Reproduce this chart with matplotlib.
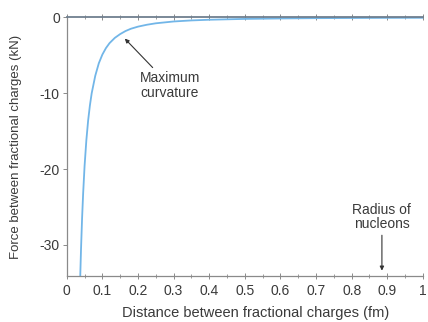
import matplotlib
matplotlib.use("Agg")
import matplotlib.pyplot as plt
from matplotlib.ticker import MultipleLocator

plt.rcParams['font.family'] = ['Liberation Sans', 'DejaVu Sans']

# Distance (fm) and force (kN)
distance = [0.036, 0.038, 0.040, 0.043, 0.046, 0.050, 0.055, 0.060, 0.065, 0.070,
            0.080, 0.090, 0.100, 0.110, 0.120, 0.135, 0.150, 0.165, 0.180, 0.200,
            0.225, 0.250, 0.300, 0.350, 0.400, 0.500, 0.600, 0.700, 0.800, 0.900, 1.000]
force = [-37.8, -33.9, -30.6, -26.5, -23.2, -19.6, -16.2, -13.6, -11.6, -10.0,
         -7.7, -6.05, -4.9, -4.05, -3.4, -2.7, -2.2, -1.8, -1.5, -1.22,
         -0.97, -0.78, -0.54, -0.40, -0.31, -0.20, -0.14, -0.10, -0.08, -0.06, -0.05]

x_ticks = [0, 0.1, 0.2, 0.3, 0.4, 0.5, 0.6, 0.7, 0.8, 0.9, 1]
x_ticklabels = ['0', '0.1', '0.2', '0.3', '0.4', '0.5', '0.6', '0.7', '0.8', '0.9', '1']
y_ticks = [0, -10, -20, -30]
y_ticklabels = ['0', '-10', '-20', '-30']

ann_curv_xy = (0.163, -2.8)
ann_curv_text = (0.29, -9.0)
ann_rad_xy = (0.885, -33.4)
ann_rad_text = (0.885, -26.3)

axis_col = '#8a8a8a'
text_col = '#3a3a3a'

fig = plt.figure(figsize=(4.28, 3.22), dpi=100)
ax = fig.add_axes([0.156, 0.143, 0.832, 0.803])

ax.plot(distance, force, color='#72b6e8', lw=1.3, clip_on=True)

ax.set_xlim(0, 1)
ax.set_ylim(-34.1, 0)
ax.set_xticks(x_ticks)
ax.set_xticklabels(x_ticklabels)
ax.set_yticks(y_ticks)
ax.set_yticklabels(y_ticklabels)
ax.xaxis.set_minor_locator(MultipleLocator(0.05))

ax.spines['right'].set_visible(False)
for s in ['left', 'bottom', 'top']:
    ax.spines[s].set_color(axis_col)
    ax.spines[s].set_linewidth(0.9)
ax.spines['top'].set_color('#6f7f8f')
ax.spines['top'].set_linewidth(1.3)

ax.tick_params(axis='x', which='both', direction='inout', top=True, color=axis_col,
               labelcolor=text_col, labelsize=10, pad=4)
ax.tick_params(axis='x', which='major', length=4, width=0.7)
ax.tick_params(axis='x', which='minor', length=2.5, width=0.6)
ax.tick_params(axis='y', direction='out', length=3, width=0.7, color=axis_col,
               labelcolor=text_col, labelsize=10, pad=2)

ax.set_xlabel('Distance between fractional charges (fm)', fontsize=10.5, color=text_col)
ax.xaxis.set_label_coords(0.53, -0.115)
ax.set_ylabel('Force between fractional charges (kN)', fontsize=9.5, color=text_col)
ax.yaxis.set_label_coords(-0.125, 0.5)

arrowprops = dict(arrowstyle='-|>', color='#333333', lw=0.8,
                  mutation_scale=6, shrinkA=1, shrinkB=0)
ax.annotate('Maximum\ncurvature', xy=ann_curv_xy, xytext=ann_curv_text,
            ha='center', va='center', fontsize=10, color=text_col,
            linespacing=1.05, arrowprops=arrowprops)
ax.annotate('Radius of\nnucleons', xy=ann_rad_xy, xytext=ann_rad_text,
            ha='center', va='center', fontsize=10, color=text_col,
            linespacing=1.05, arrowprops=arrowprops)

fig.savefig('out.png', dpi=100)
